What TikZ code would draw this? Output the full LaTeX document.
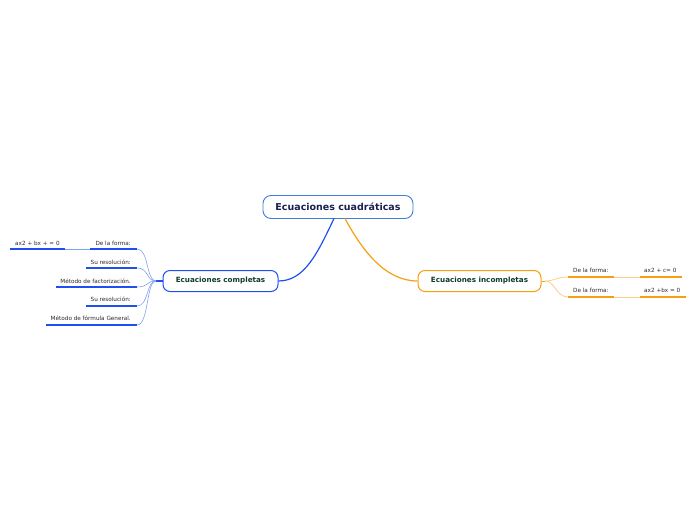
\documentclass[tikz,border=0pt]{standalone}
\usepackage{fontspec}
\setmainfont{DejaVu Sans}
\definecolor{rootblue}{HTML}{3F7FD8}
\definecolor{cblue}{HTML}{1F4FF0}
\definecolor{lblue}{HTML}{7FA0F5}
\definecolor{corange}{HTML}{F5A010}
\definecolor{lorange}{HTML}{FAD08A}
\definecolor{navy}{HTML}{1A2050}
\definecolor{dgreen}{HTML}{0E3B2E}
\definecolor{leaftxt}{HTML}{2A2A2A}
\tikzset{
  rootbox/.style={draw=rootblue, line width=0.9pt, rounded corners=8pt, fill=white,
    minimum width=150pt, minimum height=23pt, font=\fontsize{9.5}{11}\selectfont\bfseries, text=navy},
  subbox/.style={draw=#1, line width=1pt, rounded corners=7pt, fill=white,
    minimum height=21pt, font=\fontsize{7.2}{8.5}\selectfont\bfseries, text=dgreen},
  leaf/.style={font=\fontsize{5.7}{6.5}\selectfont, text=leaftxt, inner sep=0pt},
  uline/.style={line width=1.3pt},
  thin/.style={line width=0.6pt},
}
\begin{document}
\begin{tikzpicture}[x=1pt,y=-1pt]
\useasboundingbox (0,0) rectangle (696,520);
% main nodes
\node[rootbox] (root) at (338,207) {Ecuaciones cuadráticas};
\node[subbox=cblue, minimum width=115pt] (comp) at (220.5,281) {Ecuaciones completas};
\node[subbox=corange, minimum width=123pt] (incomp) at (479.5,281) {Ecuaciones incompletas};
% main connectors
\draw[cblue, line width=1.2pt] (334,218.5) .. controls (318,252) and (305,281) .. (comp.east);
\draw[corange, line width=1.2pt] (345,218.5) .. controls (362,250) and (385,281) .. (incomp.west);
% left hub
\coordinate (lh) at (156,281);
\draw[cblue, line width=1.4pt] (lh) -- (comp.west);
% left leaves
\node[leaf, anchor=base east] (l1) at (131,245) {De la forma:};
\node[leaf, anchor=base west] (l1b) at (15,245) {ax2 + bx + = 0};
\node[leaf, anchor=base east] (l2) at (131,264) {Su resolución:};
\node[leaf, anchor=base east] (l3) at (131,283) {Método de factorización.};
\node[leaf, anchor=base east] (l4) at (131,301) {Su resolución:};
\node[leaf, anchor=base east] (l5) at (131,320) {Método de fórmula General.};
\coordinate (u1a) at (90,249); \coordinate (u1b) at (137,249);
\coordinate (u1c) at (10,249); \coordinate (u1d) at (65,249);
\coordinate (u2a) at (86,268); \coordinate (u2b) at (137,268);
\coordinate (u3a) at (56,287); \coordinate (u3b) at (137,287);
\coordinate (u4a) at (86,306); \coordinate (u4b) at (137,306);
\coordinate (u5a) at (46,325); \coordinate (u5b) at (137,325);
\foreach \a/\b in {u1a/u1b,u1c/u1d,u2a/u2b,u3a/u3b,u4a/u4b,u5a/u5b}
  \draw[cblue, uline] (\a) -- (\b);
\draw[lblue, thin] (u1d) -- (u1a);
\foreach \e in {u1b,u2b,u3b,u4b,u5b}
  \draw[lblue, thin] (lh) .. controls (146,281) and (149,0|-\e) .. (\e);
% right hub
\coordinate (rh) at (545,281);
\draw[corange, line width=1pt] (incomp.east) -- (rh);
\node[leaf, anchor=base west] (r1) at (573,272) {De la forma:};
\node[leaf, anchor=base west] (r1b) at (644,272) {ax2 + c= 0};
\node[leaf, anchor=base west] (r2) at (573,292) {De la forma:};
\node[leaf, anchor=base west] (r2b) at (644,292) {ax2 +bx = 0};
\coordinate (v1a) at (568,277); \coordinate (v1b) at (614,277);
\coordinate (v1c) at (640,277); \coordinate (v1d) at (682,277);
\coordinate (v2a) at (568,297); \coordinate (v2b) at (614,297);
\coordinate (v2c) at (640,297); \coordinate (v2d) at (686,297);
\foreach \a/\b in {v1a/v1b,v1c/v1d,v2a/v2b,v2c/v2d}
  \draw[corange, uline] (\a) -- (\b);
\draw[lorange, thin] (v1b) -- (v1c);
\draw[lorange, thin] (v2b) -- (v2c);
\draw[lorange, line width=0.8pt] (rh) .. controls (555,281) and (556,277) .. (v1a);
\draw[lorange, line width=0.8pt] (rh) .. controls (555,281) and (556,297) .. (v2a);
\end{tikzpicture}
\end{document}
